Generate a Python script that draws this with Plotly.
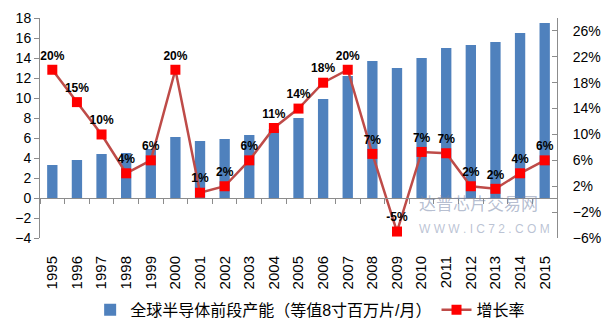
import plotly.graph_objects as go

# Global front-end wafer capacity and its year-over-year growth
years = [str(y) for y in range(1995, 2016)]
capacity = [3.3, 3.8, 4.4, 4.5, 4.9, 6.1, 5.7, 5.9, 6.3, 6.9, 8.0,
            9.9, 12.2, 13.7, 13.0, 14.0, 15.0, 15.3, 15.6, 16.5, 17.5]
growth = [0.20, 0.15, 0.10, 0.04, 0.06, 0.20, 0.01, 0.02, 0.06, 0.11, 0.14,
          0.18, 0.20, 0.07, -0.05, 0.073, 0.071, 0.02, 0.016, 0.04, 0.06]

bar_name = "全球半导体前段产能（等值8寸百万片/月）"
line_name = "增长率"

FONT = "Arial, 'Liberation Sans', 'Noto Sans CJK SC', sans-serif"
AXIS_GREY = "#8c8c8c"

fig = go.Figure()

fig.add_trace(go.Bar(
    x=years, y=capacity, name=bar_name,
    marker=dict(color="#4f81bd", line=dict(width=0)),
    xaxis="x", yaxis="y",
))

fig.add_trace(go.Scatter(
    x=years, y=growth, name=line_name,
    mode="lines+markers+text",
    line=dict(color="#be4b48", width=2.5),
    marker=dict(symbol="square", size=10, color="#ff0000",
                line=dict(width=0)),
    texttemplate="%{y:.0%}", textposition="top center",
    textfont=dict(family=FONT, size=12, color="#000000", weight="bold"),
    xaxis="x2", yaxis="y2",
))

n = len(years)
fig.update_layout(
    width=610, height=323,
    margin=dict(l=40, r=53, t=18, b=85, autoexpand=False),
    paper_bgcolor="white", plot_bgcolor="white",
    font=dict(family=FONT, size=14, color="#000000"),
    bargap=0.58,
    showlegend=True,
    legend=dict(orientation="h", x=0.097, xanchor="left",
                y=-0.327, yanchor="middle",
                font=dict(size=16), itemwidth=30,
                traceorder="normal"),
    xaxis=dict(
        type="category", categoryorder="array", categoryarray=years,
        range=[-0.5, n - 0.5], automargin=False,
        showline=False, ticks="", tickangle=-90,
        tickfont=dict(size=15), showgrid=False, zeroline=False,
        ticklabelstandoff=14,
    ),
    # category axis drawn along the zero value of the capacity scale
    xaxis2=dict(
        type="category", matches="x", overlaying="x",
        anchor="free", position=4 / 22, side="bottom",
        showline=True, linecolor=AXIS_GREY, linewidth=1,
        ticks="outside", tickson="boundaries", ticklen=5,
        tickcolor=AXIS_GREY, showticklabels=False, showgrid=False,
    ),
    yaxis=dict(
        range=[-4, 18], dtick=2, tick0=0, automargin=False,
        showline=True, linecolor=AXIS_GREY, linewidth=1,
        ticks="outside", ticklen=5, tickcolor=AXIS_GREY,
        showgrid=False, zeroline=False, tickfont=dict(size=14),
    ),
    yaxis2=dict(
        overlaying="y", side="right", automargin=False,
        range=[-0.06, 0.28], dtick=0.04, tick0=-0.06, tickformat=".0%",
        showline=True, linecolor=AXIS_GREY, linewidth=1,
        ticks="inside", ticklen=5, tickcolor=AXIS_GREY,
        showgrid=False, zeroline=False, tickfont=dict(size=14),
        ticklabelstandoff=12,
    ),
)

# site watermark
fig.add_annotation(text="达普芯片交易网", xref="paper", yref="paper",
                   x=0.73, y=0.16, xanchor="left", yanchor="middle",
                   showarrow=False,
                   font=dict(size=17, color="rgba(120,135,170,0.55)",
                             family="'Noto Sans CJK SC', sans-serif"))
fig.add_annotation(text="W W W . I C 7 2 . C O M", xref="paper", yref="paper",
                   x=0.73, y=0.04, xanchor="left", yanchor="middle",
                   showarrow=False,
                   font=dict(size=12, color="rgba(120,135,170,0.5)",
                             family=FONT))

fig.write_html("out.html")
